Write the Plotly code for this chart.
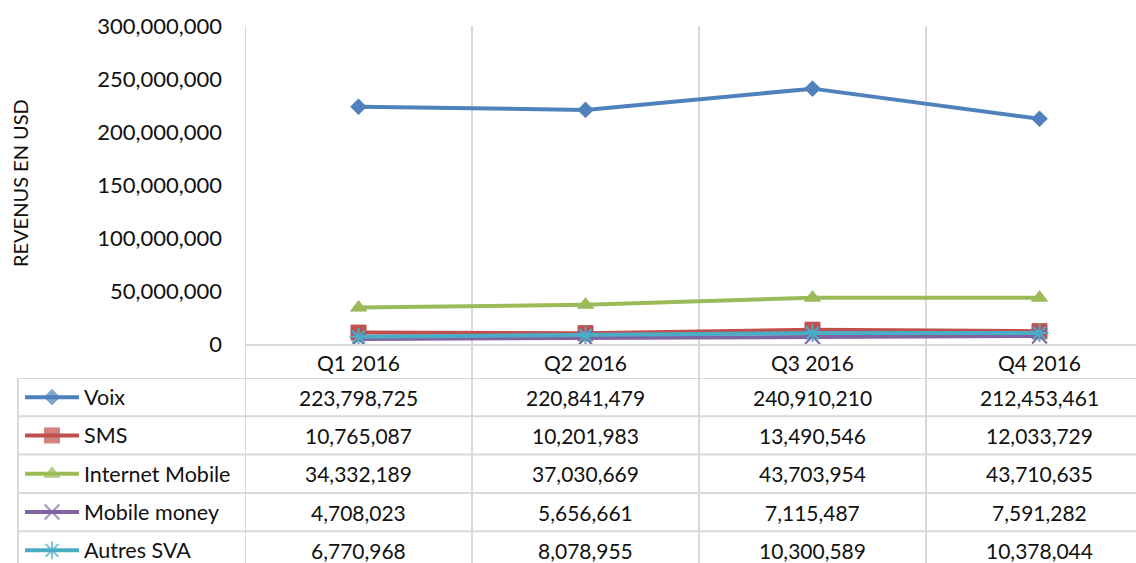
import plotly.graph_objects as go

quarters = ["Q1 2016", "Q2 2016", "Q3 2016", "Q4 2016"]
series_names = ["Voix", "SMS", "Internet Mobile", "Mobile money", "Autres SVA"]
voix = [223798725, 220841479, 240910210, 212453461]
sms = [10765087, 10201983, 13490546, 12033729]
internet_mobile = [34332189, 37030669, 43703954, 43710635]
mobile_money = [4708023, 5656661, 7115487, 7591282]
autres_sva = [6770968, 8078955, 10300589, 10378044]
y_ticks = [0, 50000000, 100000000, 150000000, 200000000, 250000000, 300000000]

values = [voix, sms, internet_mobile, mobile_money, autres_sva]
colors = ["#4F81BD", "#C0504D", "#9BBB59", "#8064A2", "#4BACC6"]
symbols = ["diamond", "square", "triangle-up", "x-thin-open", "asterisk-open"]
msizes = [12, 15, 14, 15, 15]
mlines = [1, 1, 1, 2, 2]

W, H = 1136, 563
FONT = "Lato"
TXT = "#111111"
GRID = "#d9d9d9"


def px(x):
    return x / W


def py(y):
    return 1 - y / H


ROW_H = 38.3
TABLE_TOP = 378
row_bottom_idx = (H - TABLE_TOP) / ROW_H - 0.5

fig = go.Figure()

# main lines
for name, vals, c, s, ms, ml in zip(series_names, values, colors, symbols, msizes, mlines):
    fig.add_trace(go.Scatter(
        x=quarters, y=vals, name=name, mode="lines+markers",
        line=dict(color=c, width=4),
        marker=dict(symbol=s, size=ms, color=c, line=dict(color=c, width=ml)),
        xaxis="x", yaxis="y", hoverinfo="skip",
    ))

# legend glyphs in the data table
for i, (name, c, s, ms, ml) in enumerate(zip(series_names, colors, symbols, msizes, mlines)):
    fig.add_trace(go.Scatter(
        x=[0, 0.5, 1], y=[i, i, i], mode="lines+markers",
        line=dict(color=c, width=4),
        marker=dict(symbol=s, size=[0, ms, 0], color=c, line=dict(color=c, width=ml)),
        xaxis="x2", yaxis="y2", hoverinfo="skip", showlegend=False,
    ))

shapes = []
# vertical gridlines at category boundaries
for k in range(len(quarters)):
    shapes.append(dict(type="line", xref="x", yref="paper", x0=k - 0.5, x1=k - 0.5,
                       y0=0, y1=py(26), line=dict(color=GRID, width=2), layer="below"))
# table row lines
for i in range(len(series_names)):
    shapes.append(dict(type="line", xref="paper", yref="y2", x0=px(18), x1=1,
                       y0=i - 0.5, y1=i - 0.5, line=dict(color=GRID, width=2), layer="below"))
# table left border
shapes.append(dict(type="line", xref="paper", yref="y2", x0=px(18), x1=px(18),
                   y0=-0.5, y1=row_bottom_idx, line=dict(color=GRID, width=2), layer="below"))

annotations = []
for i, (name, vals) in enumerate(zip(series_names, values)):
    annotations.append(dict(xref="paper", yref="y2", x=px(83), y=i, text=name,
                            xanchor="left", yanchor="middle", showarrow=False, borderpad=0,
                            font=dict(family=FONT, size=21.5, color=TXT)))
    for q, v in zip(quarters, vals):
        annotations.append(dict(xref="x", yref="y2", x=q, y=i, text=f"{v:,}",
                                xanchor="center", yanchor="middle", showarrow=False,
                                borderpad=0, font=dict(family=FONT, size=21, color=TXT)))

annotations.append(dict(xref="paper", yref="paper", x=px(20), y=py(183),
                        text="REVENUS EN USD", textangle=-90, showarrow=False,
                        xanchor="center", yanchor="middle",
                        font=dict(family=FONT, size=20, color=TXT)))

fig.update_layout(
    template="none",
    width=W, height=H, autosize=False,
    margin=dict(l=0, r=0, t=0, b=0, pad=0),
    paper_bgcolor="white", plot_bgcolor="rgba(0,0,0,0)",
    showlegend=False,
    font=dict(family=FONT, size=21, color=TXT),
    xaxis=dict(domain=[px(245), 1], type="category", categoryarray=quarters,
               range=[-0.5, -0.5 + (W - 245) / 227.0], automargin=False,
               showgrid=False, zeroline=False, showline=True, linecolor=GRID, linewidth=2,
               ticks="", tickfont=dict(family=FONT, size=21, color=TXT), anchor="y",
               fixedrange=True),
    yaxis=dict(domain=[py(344), py(26)], range=[0, 300000000], tickvals=y_ticks,
               tickformat=",", showgrid=False, zeroline=False, showline=False,
               ticks="", ticklabelstandoff=22, automargin=False,
               tickfont=dict(family=FONT, size=22, color=TXT), anchor="x", fixedrange=True),
    xaxis2=dict(domain=[px(25), px(79)], range=[0, 1], visible=False, anchor="y2",
                automargin=False, fixedrange=True),
    yaxis2=dict(domain=[0, py(TABLE_TOP)], range=[row_bottom_idx, -0.5], visible=False,
                anchor="x2", automargin=False, fixedrange=True),
    shapes=shapes,
    annotations=annotations,
)

fig.write_html("out.html", config={"displayModeBar": False, "staticPlot": True},
               post_script="document.body.style.margin='0';")
